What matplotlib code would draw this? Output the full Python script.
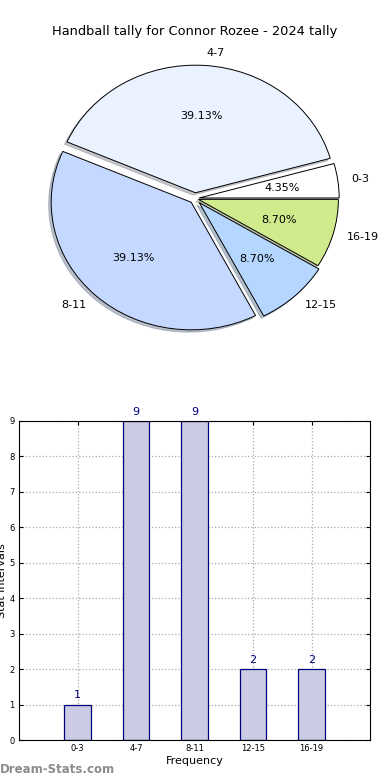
import numpy as np
import matplotlib
matplotlib.use('Agg')
import matplotlib.pyplot as plt

# data
categories = ['0-3', '4-7', '8-11', '12-15', '16-19']
counts = [1, 9, 9, 2, 2]
pie_colors = ['#ffffff', '#eaf1ff', '#c5d8ff', '#b4d6ff', '#cfeb8b']
explode = [0.03, 0.045, 0.04, 0.045, 0.025]

W, H = 390, 780
fig = plt.figure(figsize=(W / 100, H / 100), dpi=100)

def px_axes(x0, y0, x1, y1):
    # pixel box (top-left origin) -> figure fraction
    return fig.add_axes([x0 / W, 1 - y1 / H, (x1 - x0) / W, (y1 - y0) / H])

# pie chart
ax1 = px_axes(20, 39, 370, 358)
wedges, texts, autotexts = ax1.pie(
    counts, labels=categories, colors=pie_colors, explode=explode,
    autopct='%1.2f%%', startangle=0,
    shadow={'ox': -0.013, 'oy': -0.013, 'shade': 0.4},
    wedgeprops={'edgecolor': 'black', 'linewidth': 0.7},
    textprops={'fontsize': 8})
ax1.set_aspect('auto')
ax1.set_xlim(-1.25, 1.25)
ax1.set_ylim(-1.25, 1.25)
ax1.set_title('Handball tally for Connor Rozee - 2024 tally', fontsize=9.4, pad=3)

# bar chart
ax2 = px_axes(19, 421, 370, 740)
x = np.arange(len(categories))
bars = ax2.bar(x, counts, width=0.45, color='#cbcbe3', edgecolor='#000080',
               linewidth=0.9, zorder=2)
for xi, v in zip(x, counts):
    ax2.text(xi, v + 0.12, str(v), ha='center', va='bottom',
             fontsize=8, color='#000080')
ax2.set_xlim(-1, 5)
ax2.set_ylim(0, 9)
ax2.set_xticks(x)
ax2.set_xticklabels(categories)
ax2.set_yticks(range(0, 10))
ax2.tick_params(labelsize=6, direction='in', top=True, right=True,
                length=3, pad=3)
ax2.grid(True, linestyle=':', color='#aaaaaa', linewidth=0.9, zorder=0)
ax2.set_axisbelow(True)
ax2.set_xlabel('Frequency', fontsize=8, labelpad=2)
ax2.set_ylabel('Stat intervals', fontsize=8, labelpad=2)

fig.text(0.0, 0.005, 'Dream-Stats.com', fontsize=8.5, color='#8c8c8c',
         fontweight='semibold', ha='left', va='bottom')

fig.savefig('out.png', dpi=100)
